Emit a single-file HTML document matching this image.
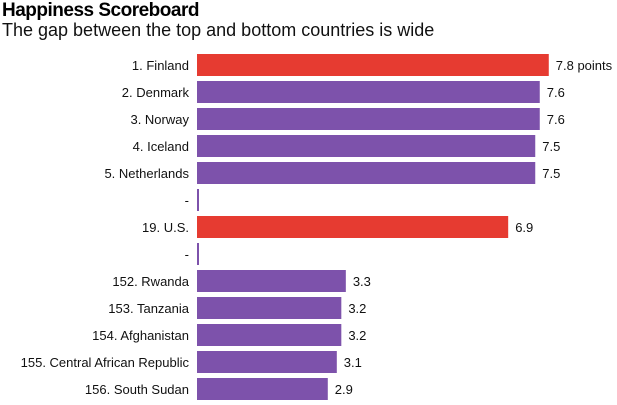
<!DOCTYPE html>
<html><head><meta charset="utf-8"><style>
body{margin:0;background:#fff;font-family:"Liberation Sans",sans-serif;}
#t{position:absolute;left:2px;top:0px;font-size:19px;font-weight:bold;letter-spacing:-0.5px;color:#000}
#s{position:absolute;left:2px;top:20px;font-size:18px;color:#111}
</style></head><body>
<div id="t">Happiness Scoreboard</div>
<div id="s">The gap between the top and bottom countries is wide</div>
<svg id="c" width="617" height="405" style="position:absolute;left:0;top:0"></svg>
<script>
const categories=["1. Finland","2. Denmark","3. Norway","4. Iceland","5. Netherlands","-","19. U.S.","-","152. Rwanda","153. Tanzania","154. Afghanistan","155. Central African Republic","156. South Sudan"];
const values=[7.8,7.6,7.6,7.5,7.5,0.04,6.9,0.04,3.3,3.2,3.2,3.1,2.9];
const labels=["7.8 points","7.6","7.6","7.5","7.5","","6.9","","3.3","3.2","3.2","3.1","2.9"];
const highlight=[true,false,false,false,false,false,true,false,false,false,false,false,false];
const svg=document.getElementById('c');const NS="http://www.w3.org/2000/svg";
const x=v=>197+v*45.1;const y=i=>54+i*27;
categories.forEach((c,i)=>{
 const r=document.createElementNS(NS,'rect');
 
 
 r.setAttribute('x',197);r.setAttribute('y',y(i));r.setAttribute('width',Math.max(2,x(values[i])-197));r.setAttribute('height',22);
 r.setAttribute('fill',highlight[i]?'#e63b31':'#7d52ab');svg.appendChild(r);
 const t=document.createElementNS(NS,'text');
 
 
 t.setAttribute('x',189);t.setAttribute('y',y(i)+16);t.setAttribute('text-anchor','end');t.setAttribute('font-size','13');t.setAttribute('fill','#111');t.textContent=c;svg.appendChild(t);
 if(labels[i]){const v=document.createElementNS(NS,'text');
 
 
 v.setAttribute('x',x(values[i])+7);v.setAttribute('y',y(i)+16);v.setAttribute('font-size','13');v.setAttribute('fill','#111');v.textContent=labels[i];svg.appendChild(v);}
});
</script>
</body></html>
